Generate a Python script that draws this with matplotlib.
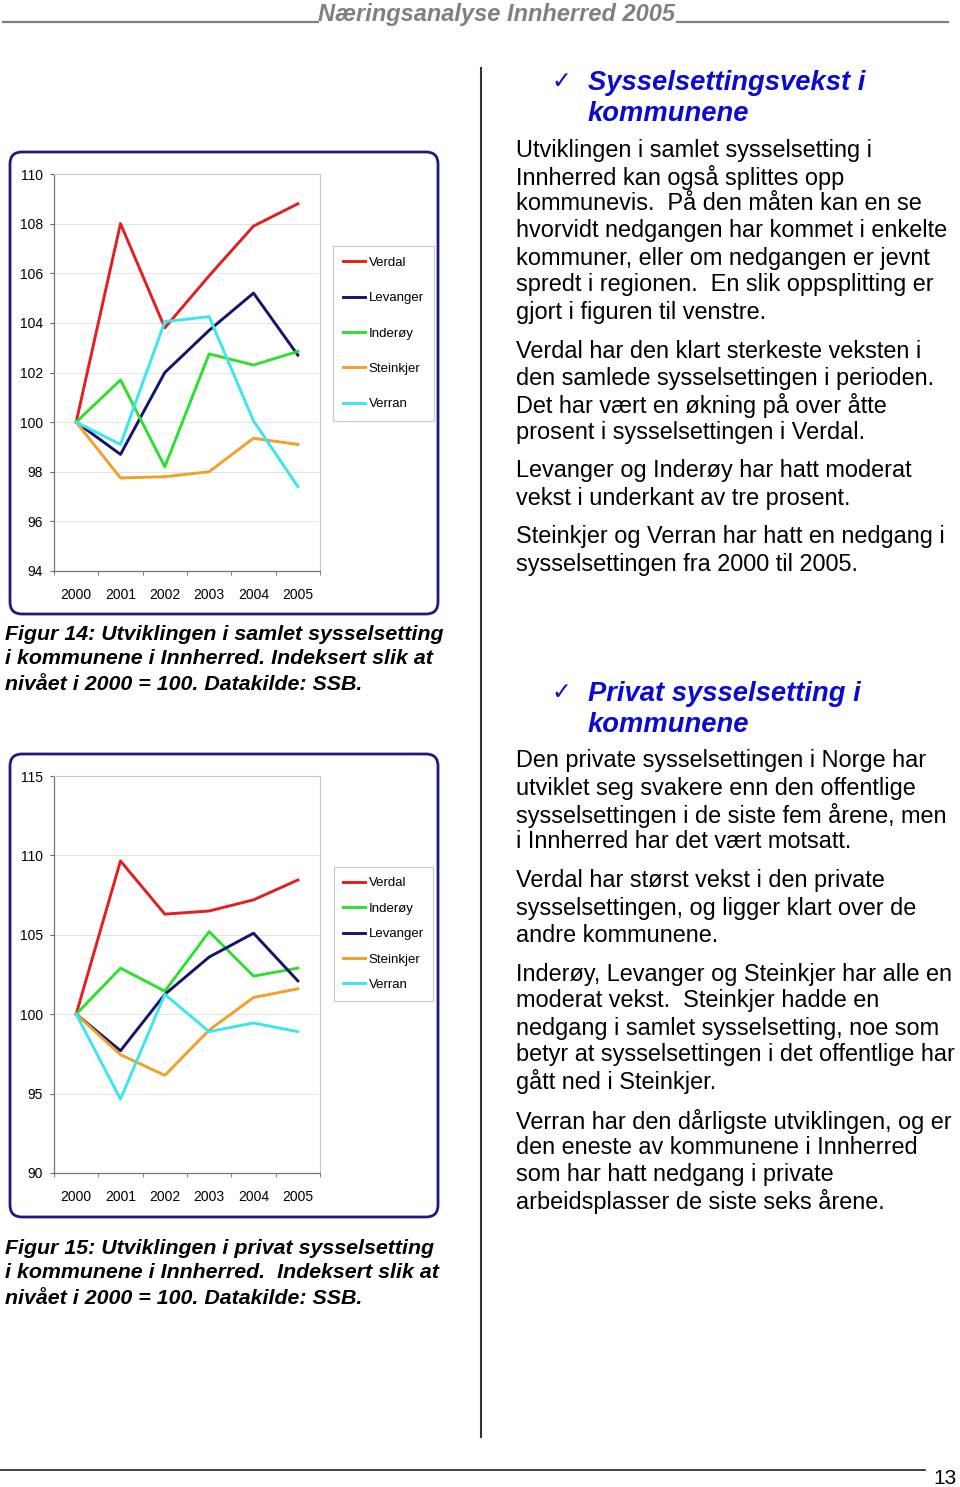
import matplotlib
matplotlib.use("Agg")
import matplotlib.pyplot as plt
from matplotlib.patches import FancyBboxPatch

plt.rcParams['font.family'] = ['Liberation Sans', 'DejaVu Sans']

W, H = 960, 1487

# data
years = ['2000', '2001', '2002', '2003', '2004', '2005']

samlet_names = ['Verdal', 'Levanger', 'Inderøy', 'Steinkjer', 'Verran']
samlet_verdal = [100, 108.0, 103.8, 105.9, 107.9, 108.8]
samlet_levanger = [100, 98.7, 102.0, 103.7, 105.2, 102.7]
samlet_inderoy = [100, 101.7, 98.2, 102.75, 102.3, 102.85]
samlet_steinkjer = [100, 97.75, 97.8, 98.0, 99.35, 99.1]
samlet_verran = [100, 99.1, 104.05, 104.25, 100.05, 97.4]

privat_names = ['Verdal', 'Inderøy', 'Levanger', 'Steinkjer', 'Verran']
privat_verdal = [100, 109.65, 106.3, 106.5, 107.2, 108.45]
privat_inderoy = [100, 102.9, 101.45, 105.2, 102.4, 102.9]
privat_levanger = [100, 97.7, 101.25, 103.6, 105.1, 102.1]
privat_steinkjer = [100, 97.45, 96.15, 99.0, 101.05, 101.6]
privat_verran = [100, 94.65, 101.25, 98.9, 99.45, 98.9]

colors = {'Verdal': '#e41e1e', 'Levanger': '#14146e', 'Inderøy': '#2ee02e',
          'Steinkjer': '#f2a02a', 'Verran': '#3ae6f2'}


def rect(l, t, r, b):
    return [l / W, 1 - b / H, (r - l) / W, (b - t) / H]


fig = plt.figure(figsize=(W / 100, H / 100), dpi=100)

# page layer in pixel coords
bg = fig.add_axes([0, 0, 1, 1])
bg.set_xlim(0, W)
bg.set_ylim(H, 0)
bg.axis('off')

# header
bg.plot([3, 318], [22, 22], color='#808080', lw=1.6)
bg.plot([677, 948], [22, 22], color='#808080', lw=1.6)
bg.text(497, 21, 'Næringsanalyse Innherred 2005', ha='center', va='baseline',
        fontsize=17, fontweight='bold', fontstyle='italic', color='#808080',
        family=['Liberation Sans Narrow', 'Liberation Sans'])

# column divider and footer
bg.plot([481, 481], [68, 1437], color='#333333', lw=1.5)
bg.plot([0, 925], [1470, 1470], color='#222222', lw=1.2)
bg.text(957, 1478, '13', ha='right', va='center', fontsize=15)

# chart frames
for t, b in [(152, 614), (754, 1217)]:
    bg.add_patch(FancyBboxPatch((10, t), 428, b - t, boxstyle='round,pad=0,rounding_size=12',
                                fc='white', ec='#1c1c80', lw=2))


def draw_chart(top, bottom, names, series, ylim, step, leg_top, leg_bottom, spacing, bpad):
    ax = fig.add_axes(rect(54, top, 320, bottom))
    x = range(len(years))
    for name, vals in zip(names, series):
        ax.plot(x, vals, color=colors[name], lw=2.1, label=name)
    ax.set_xlim(-0.5, 5.5)
    ax.set_ylim(*ylim)
    ax.set_yticks(range(ylim[0], ylim[1] + 1, step))
    ax.set_xticks(list(x))
    ax.set_xticklabels(years)
    ax.set_xticks([i - 0.5 for i in range(7)], minor=True)
    ax.tick_params(axis='x', which='major', length=0, pad=12, labelsize=10)
    ax.tick_params(axis='x', which='minor', length=3, color='#666666')
    ax.tick_params(axis='y', length=3, color='#666666', pad=5, labelsize=10)
    ax.grid(axis='y', color='#e4e4e4', lw=0.7)
    ax.set_axisbelow(True)
    for s in ['top', 'right']:
        ax.spines[s].set_color('#c8c8c8')
        ax.spines[s].set_linewidth(0.8)
    for s in ['left', 'bottom']:
        ax.spines[s].set_color('#777777')
        ax.spines[s].set_linewidth(0.9)
    leg = ax.legend(loc='center', bbox_to_anchor=(383.5 / W, 1 - (leg_top + leg_bottom) / 2 / H),
                    bbox_transform=fig.transFigure, fontsize=9.5, frameon=True, fancybox=False,
                    edgecolor='#bbbbbb', handlelength=1.6, handletextpad=0.3,
                    labelspacing=spacing, borderpad=bpad, borderaxespad=0)
    leg.get_frame().set_linewidth(0.8)
    return ax


draw_chart(174, 571, samlet_names,
           [samlet_verdal, samlet_levanger, samlet_inderoy, samlet_steinkjer, samlet_verran],
           (94, 110), 2, 243, 424, 1.75, 0.8)
draw_chart(776, 1173, privat_names,
           [privat_verdal, privat_inderoy, privat_levanger, privat_steinkjer, privat_verran],
           (90, 115), 5, 865, 1003, 1.0, 0.75)

# captions
cap_kw = dict(fontsize=15.4, fontweight='bold', fontstyle='italic', va='center', ha='left')
for y, line in zip([634, 659, 684], ['Figur 14: Utviklingen i samlet sysselsetting',
                                     'i kommunene i Innherred. Indeksert slik at',
                                     'nivået i 2000 = 100. Datakilde: SSB.']):
    bg.text(5, y, line, **cap_kw)
for y, line in zip([1248, 1273, 1298], ['Figur 15: Utviklingen i privat sysselsetting',
                                        'i kommunene i Innherred.  Indeksert slik at',
                                        'nivået i 2000 = 100. Datakilde: SSB.']):
    bg.text(5, y, line, **cap_kw)

# right column headings
head_kw = dict(fontsize=19.7, fontweight='bold', fontstyle='italic', color='#0a0ad2',
               va='center', ha='left')
for y0, lines in [(83, ['Sysselsettingsvekst i', 'kommunene']),
                  (694, ['Privat sysselsetting i', 'kommunene'])]:
    bg.text(551, y0 - 2, '✓', fontsize=17, color='#0a0ad2', va='center', ha='left',
            family='DejaVu Sans')
    for k, line in enumerate(lines):
        bg.text(588, y0 + 31 * k, line, **head_kw)

# right column body text
paragraphs = [
    (150, ['Utviklingen i samlet sysselsetting i',
           'Innherred kan også splittes opp',
           'kommunevis.  På den måten kan en se',
           'hvorvidt nedgangen har kommet i enkelte',
           'kommuner, eller om nedgangen er jevnt',
           'spredt i regionen.  En slik oppsplitting er',
           'gjort i figuren til venstre.']),
    (351, ['Verdal har den klart sterkeste veksten i',
           'den samlede sysselsettingen i perioden.',
           'Det har vært en økning på over åtte',
           'prosent i sysselsettingen i Verdal.']),
    (471, ['Levanger og Inderøy har hatt moderat',
           'vekst i underkant av tre prosent.']),
    (537, ['Steinkjer og Verran har hatt en nedgang i',
           'sysselsettingen fra 2000 til 2005.']),
    (761, ['Den private sysselsettingen i Norge har',
           'utviklet seg svakere enn den offentlige',
           'sysselsettingen i de siste fem årene, men',
           'i Innherred har det vært motsatt.']),
    (881, ['Verdal har størst vekst i den private',
           'sysselsettingen, og ligger klart over de',
           'andre kommunene.']),
    (974, ['Inderøy, Levanger og Steinkjer har alle en',
           'moderat vekst.  Steinkjer hadde en',
           'nedgang i samlet sysselsetting, noe som',
           'betyr at sysselsettingen i det offentlige har',
           'gått ned i Steinkjer.']),
    (1121, ['Verran har den dårligste utviklingen, og er',
            'den eneste av kommunene i Innherred',
            'som har hatt nedgang i private',
            'arbeidsplasser de siste seks årene.']),
]
for y0, lines in paragraphs:
    for k, line in enumerate(lines):
        bg.text(516, y0 + 27 * k, line, fontsize=16.9, va='center', ha='left')

fig.savefig('out.png', dpi=100)
